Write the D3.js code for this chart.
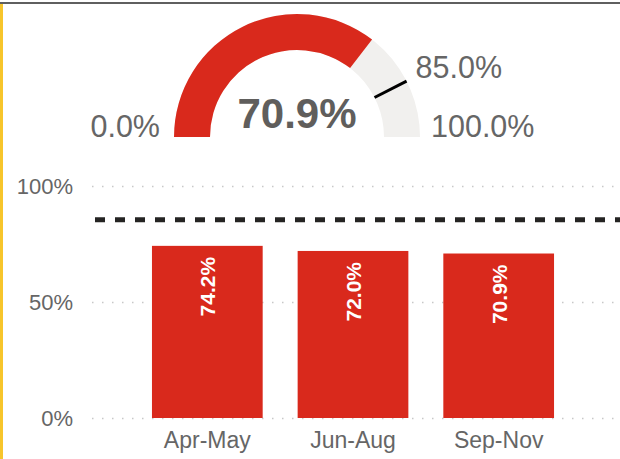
<!DOCTYPE html>
<html>
<head>
<meta charset="utf-8">
<title>Gauge and bars</title>
<style>

body {
  margin: 0;
  background-color: #fff;
  font-family: "Liberation Sans", Arial, Helvetica, sans-serif;
}

svg {
  display: block;
}

</style>
</head>
<body>
<svg width="620" height="459"></svg>
<script src="https://d3js.org/d3.v7.min.js"></script>
<script>

// data
var gaugeValue = 70.9,
    gaugeTarget = 85.0,
    gaugeMin = 0,
    gaugeMax = 100;

var periods = ["Apr-May", "Jun-Aug", "Sep-Nov"];
var rates = [74.2, 72.0, 70.9];
var yTicks = [0, 50, 100];

var red = "#d9291c",
    grey = "#666",
    track = "#f1f0ee";

var svg = d3.select("svg");

// frame: grey top rule, yellow left rule
svg.append("rect")
    .attr("x", 0).attr("y", 2)
    .attr("width", 620).attr("height", 2)
    .style("fill", "#5f5f5f");
svg.append("rect")
    .attr("x", 0).attr("y", 4)
    .attr("width", 3).attr("height", 455)
    .style("fill", "#f7c52b");

// gauge
var cx = 297, cy = 137,
    rOut = 123, rIn = 87;

var angle = d3.scaleLinear()
    .domain([gaugeMin, gaugeMax])
    .range([-Math.PI / 2, Math.PI / 2]);

var arc = d3.arc()
    .innerRadius(rIn)
    .outerRadius(rOut);

var gauge = svg.append("g")
    .attr("transform", "translate(" + cx + "," + cy + ")");

gauge.append("path")
    .attr("d", arc({startAngle: angle(gaugeMin), endAngle: angle(gaugeMax)}))
    .style("fill", track);

gauge.append("path")
    .attr("d", arc({startAngle: angle(gaugeMin), endAngle: angle(gaugeValue)}))
    .style("fill", red);

var ta = angle(gaugeTarget);
gauge.append("line")
    .attr("x1", rIn * Math.sin(ta)).attr("y1", -rIn * Math.cos(ta))
    .attr("x2", rOut * Math.sin(ta)).attr("y2", -rOut * Math.cos(ta))
    .style("stroke", "#000")
    .style("stroke-width", 3);

var fmt = function(v) { return v.toFixed(1) + "%"; };

gauge.append("text")
    .attr("x", 0).attr("y", -9)
    .attr("text-anchor", "middle")
    .style("font-size", "42px")
    .style("font-weight", "bold")
    .style("fill", "#605e5c")
    .text(fmt(gaugeValue));

gauge.append("text")
    .attr("x", -rOut - 14).attr("y", 0)
    .attr("text-anchor", "end")
    .style("font-size", "30.5px")
    .style("fill", grey)
    .text(fmt(gaugeMin));

gauge.append("text")
    .attr("x", rOut + 11).attr("y", 0)
    .style("font-size", "30.5px")
    .style("fill", grey)
    .text(fmt(gaugeMax));

gauge.append("text")
    .attr("x", rOut * Math.sin(ta) + 9).attr("y", -rOut * Math.cos(ta) - 3)
    .style("font-size", "30.5px")
    .style("fill", grey)
    .text(fmt(gaugeTarget));

// bar chart
var x = d3.scaleBand()
    .domain(periods)
    .range([117, 589])
    .padding(0.24);

var y = d3.scaleLinear()
    .domain([0, 100])
    .range([418, 186]);

var chart = svg.append("g");

chart.append("g")
    .attr("transform", "translate(92,0)")
    .call(d3.axisLeft(y).tickValues(yTicks).tickSize(-528).tickPadding(19)
      .tickFormat(function(d) { return d + "%"; }))
    .call(function(g) {
      g.select(".domain").remove();
      g.selectAll(".tick line")
        .style("stroke", "#c8c8c8")
        .style("stroke-width", 1.5)
        .style("stroke-dasharray", "1.5,8.5");
      g.selectAll(".tick text")
        .style("font-size", "22px")
        .style("font-family", "inherit")
        .style("fill", grey);
    });

chart.selectAll("rect.bar")
    .data(rates)
  .enter().append("rect")
    .attr("class", "bar")
    .attr("x", function(d, i) { return x(periods[i]); })
    .attr("y", function(d) { return y(d); })
    .attr("width", x.bandwidth())
    .attr("height", function(d) { return y(0) - y(d); })
    .style("fill", red);

chart.selectAll("text.val")
    .data(rates)
  .enter().append("text")
    .attr("class", "val")
    .attr("transform", function(d, i) {
      return "translate(" + (x(periods[i]) + x.bandwidth() / 2 + 8) + "," + (y(d) + 11) + ") rotate(-90)";
    })
    .attr("text-anchor", "end")
    .style("font-size", "21px")
    .style("font-weight", "bold")
    .style("fill", "#fff")
    .text(function(d) { return d.toFixed(1) + "%"; });

// target line
chart.append("line")
    .attr("x1", 95).attr("x2", 620)
    .attr("y1", y(gaugeTarget) - 1).attr("y2", y(gaugeTarget) - 1)
    .style("stroke", "#252423")
    .style("stroke-width", 5)
    .style("stroke-dasharray", "10,10");

chart.append("g")
    .attr("transform", "translate(0,418)")
    .call(d3.axisBottom(x).tickSize(0).tickPadding(14))
    .call(function(g) {
      g.select(".domain").remove();
      g.selectAll(".tick text")
        .style("font-size", "23px")
        .style("font-family", "inherit")
        .style("fill", grey);
    });

</script>
</body>
</html>
